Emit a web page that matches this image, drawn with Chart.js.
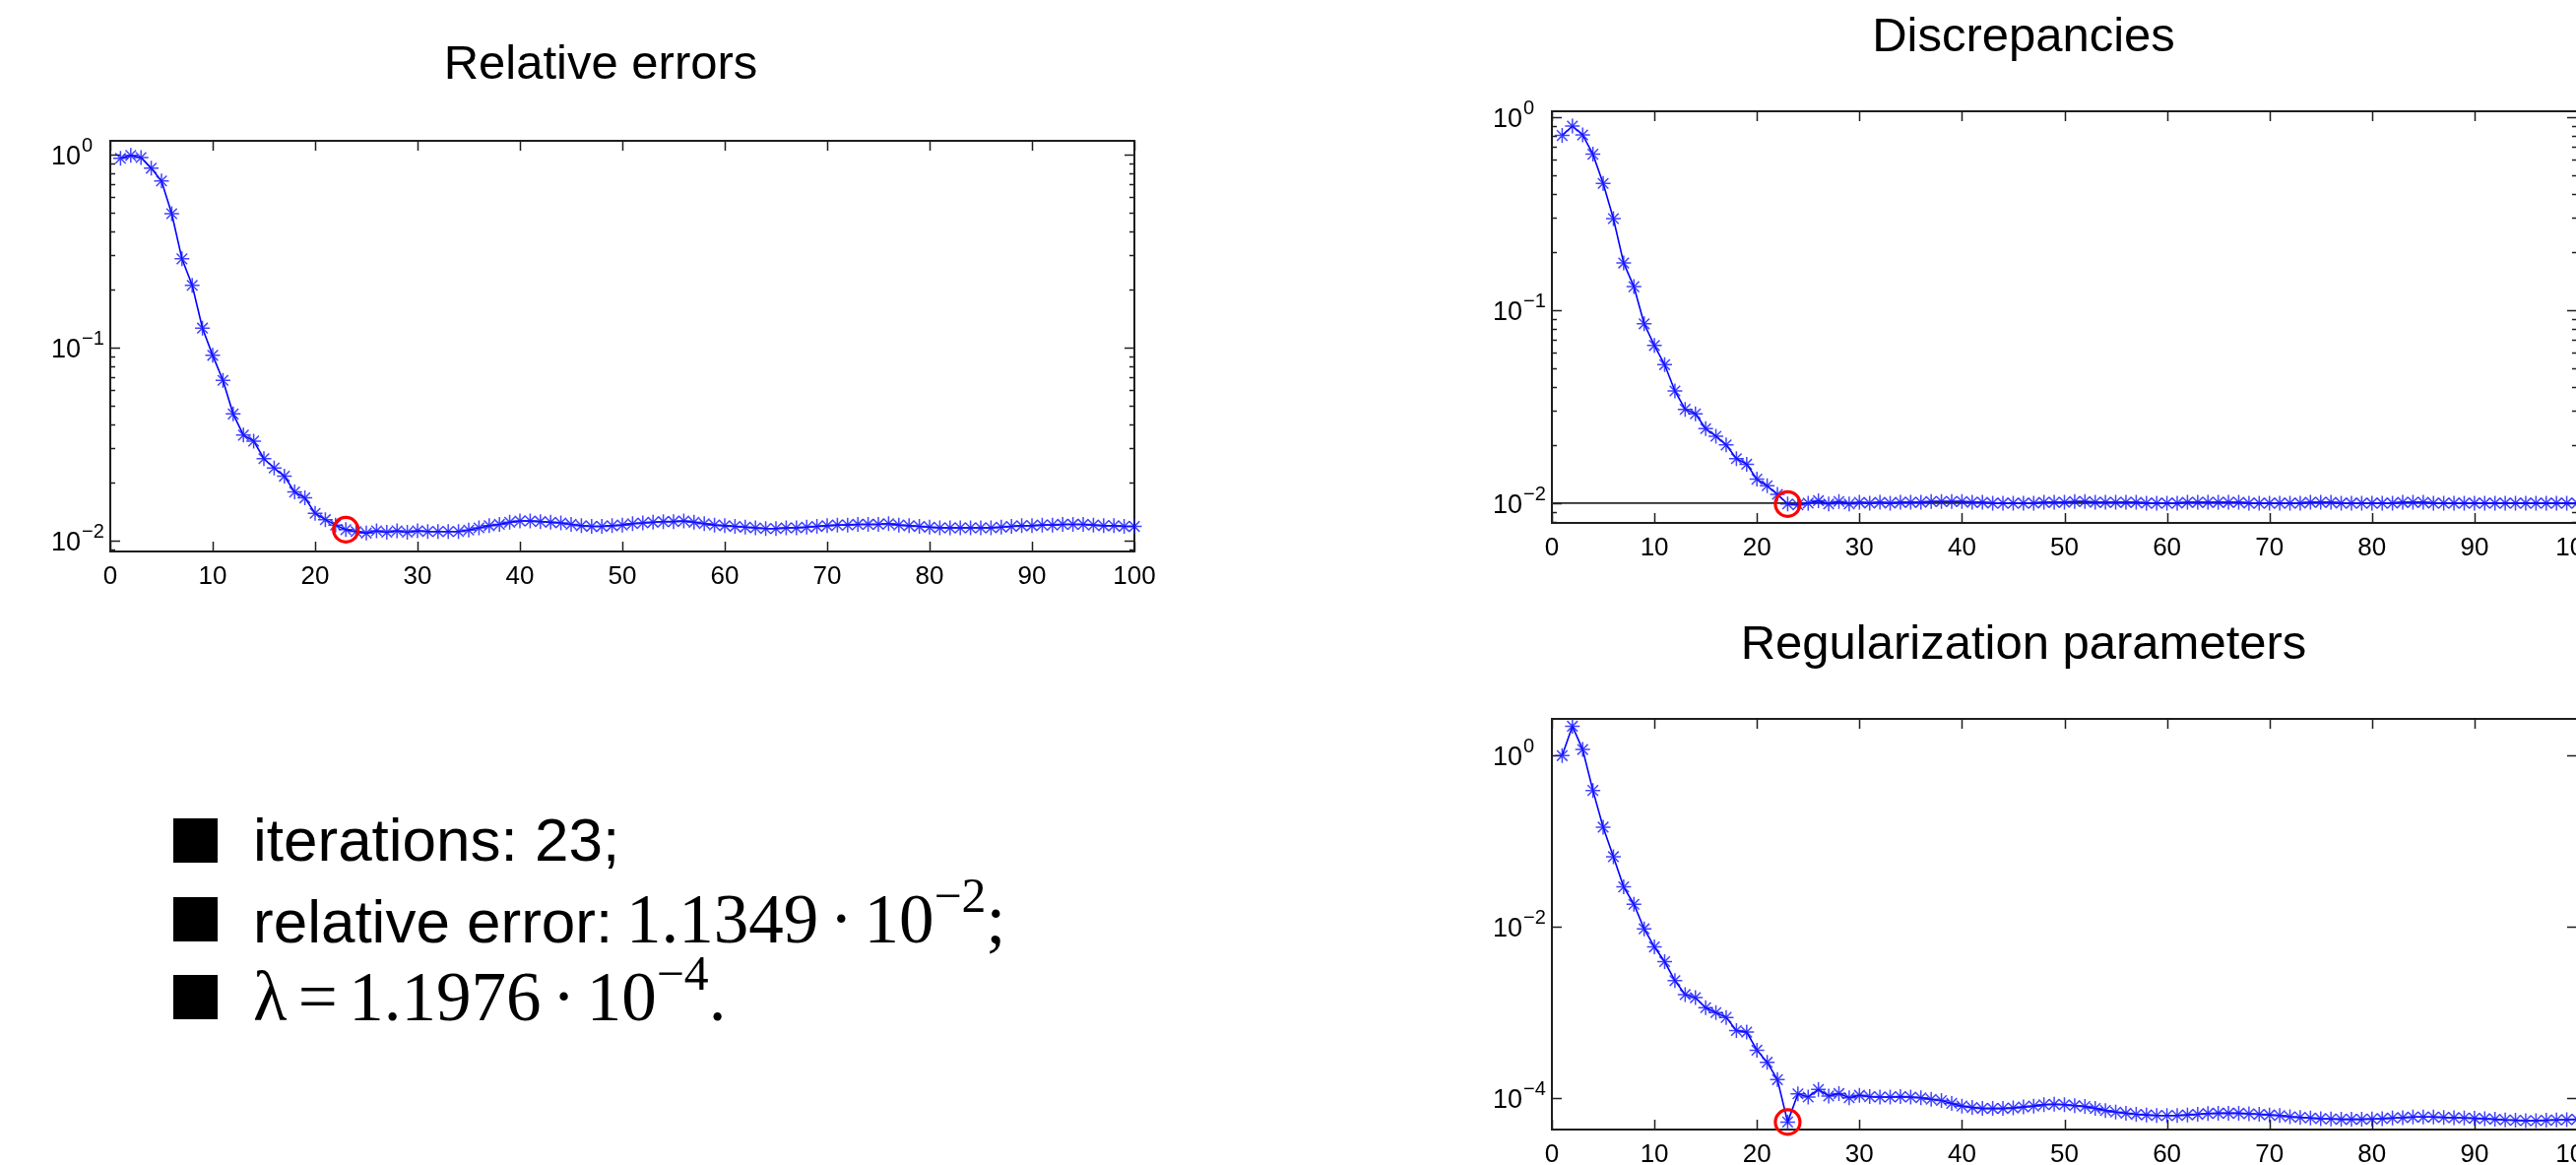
<!DOCTYPE html>
<html>
<head>
<meta charset="utf-8">
<script src="https://cdn.jsdelivr.net/npm/chart.js@4/dist/chart.umd.min.js"></script>
<style>
  html, body { margin: 0; padding: 0; background: #fff; width: 2616px; height: 1183px; overflow: hidden; }
  canvas { position: absolute; }
  .title { position: absolute; font-family: "Liberation Sans", Arial, sans-serif; font-size: 49px; line-height: 49px; white-space: nowrap; transform: translateX(-50%); color: #000; }
  .sq { position: absolute; width: 45px; height: 45px; background: #000; }
  .ln { position: absolute; white-space: nowrap; line-height: 80px; font-size: 62px; font-family: "Liberation Sans", Arial, sans-serif; color: #000; }
  .serif { font-family: "Liberation Serif", "Times New Roman", serif; font-size: 71px; }
  .op { margin: 0 0.16em; }
  sup { font-size: 0.7em; position: relative; top: -0.62em; vertical-align: baseline; line-height: 0; }
</style>
</head>
<body>

<div class="title" style="left:610px;top:39px">Relative errors</div>
<div class="title" style="left:2055px;top:11px">Discrepancies</div>
<div class="title" style="left:2055px;top:628px">Regularization parameters</div>

<canvas id="relChart" width="1200" height="640" style="left:0;top:0"></canvas>
<canvas id="discChart" width="1260" height="600" style="left:1400px;top:0"></canvas>
<canvas id="regChart" width="1260" height="600" style="left:1400px;top:620px"></canvas>

<div class="sq" style="left:176px;top:831px"></div>
<div class="ln" style="left:257px;top:813px">iterations: 23;</div>
<div class="sq" style="left:176px;top:911px"></div>
<div class="ln" style="left:257px;top:893px">relative error:<span class="serif" style="margin-left:-4px"> 1.1349<span class="op">·</span>10<sup>−2</sup>;</span></div>
<div class="sq" style="left:176px;top:990px"></div>
<div class="ln" style="left:257px;top:972px"><span class="serif">λ<span class="op">=</span>1.1976<span class="op">·</span>10<sup>−4</sup>.</span></div>

<script>
// iteration axis
const xTicks = [0, 10, 20, 30, 40, 50, 60, 70, 80, 90, 100];
const stopIteration = 23;

// relative errors, iterations 1..100
const relErrors = [
  0.957, 0.99, 0.965, 0.85, 0.73, 0.494, 0.288, 0.21, 0.126, 0.091,
  0.0675, 0.0452, 0.0351, 0.0327, 0.0265, 0.0237, 0.0215, 0.0178, 0.0166, 0.0138,
  0.0128, 0.0120, 0.01135, 0.0111, 0.0109, 0.0112, 0.0110, 0.0112, 0.0110, 0.0112,
  0.0111, 0.0111, 0.0111, 0.0111, 0.0113, 0.0116, 0.0119, 0.0121, 0.0124, 0.0126,
  0.0126, 0.0125, 0.0124, 0.0123, 0.0121, 0.0119, 0.0118, 0.0118, 0.0119, 0.0120,
  0.0122, 0.0123, 0.0124, 0.0125, 0.0125, 0.0126, 0.0124, 0.0122, 0.0120, 0.0119,
  0.0118, 0.0117, 0.0116, 0.0115, 0.0115, 0.0116, 0.0116, 0.0117, 0.0118, 0.0119,
  0.0120, 0.0120, 0.0121, 0.0121, 0.0121, 0.0122, 0.0120, 0.0119, 0.0118, 0.0117,
  0.0116, 0.0116, 0.0116, 0.0116, 0.0116, 0.0116, 0.0117, 0.0118, 0.0119, 0.0119,
  0.0120, 0.0120, 0.0121, 0.0121, 0.0121, 0.0120, 0.0119, 0.0119, 0.0118, 0.0118
];

// discrepancies, iterations 1..100
const discrepancies = [
  0.80, 0.896, 0.806, 0.64, 0.452, 0.297, 0.175, 0.132, 0.0848, 0.0655,
  0.0521, 0.0381, 0.0306, 0.0290, 0.0243, 0.0222, 0.0200, 0.0170, 0.0159, 0.0133,
  0.0123, 0.0111, 0.0099, 0.0098, 0.0100, 0.0103, 0.0099, 0.0102, 0.0099, 0.0101,
  0.0100, 0.0101, 0.0100, 0.0101, 0.0101, 0.0101, 0.0102, 0.0102, 0.0102, 0.0102,
  0.0101, 0.0101, 0.0100, 0.0100, 0.0100, 0.0100, 0.0100, 0.0101, 0.0101, 0.0101,
  0.0102, 0.0102, 0.0101, 0.0101, 0.0101, 0.0101, 0.0101, 0.0100, 0.0100, 0.0100,
  0.0100, 0.0101, 0.0101, 0.0101, 0.0101, 0.0101, 0.0101, 0.0100, 0.0100, 0.0100,
  0.0100, 0.0100, 0.0100, 0.0101, 0.0101, 0.0101, 0.0100, 0.0100, 0.0100, 0.0100,
  0.0100, 0.0100, 0.0101, 0.0101, 0.0101, 0.0100, 0.0100, 0.0100, 0.0100, 0.0100,
  0.0100, 0.0100, 0.0100, 0.0100, 0.0100, 0.0100, 0.0100, 0.0100, 0.0100, 0.0100
];
const noiseLevel = 0.01;

// regularization parameters, iterations 1..100
const regParams = [
  1.0, 2.21, 1.18, 0.392, 0.146, 0.0659, 0.0292, 0.0183, 0.00944, 0.0058,
  0.0039, 0.00234, 0.00161, 0.00148, 0.00113, 0.00099, 0.00087, 0.00061, 0.000585, 0.00036,
  0.00026, 0.000163, 5.2e-5, 1.11e-4, 1.02e-4, 1.25e-4, 1.05e-4, 1.12e-4, 1.0e-4, 1.07e-4,
  1.03e-4, 1.02e-4, 1.02e-4, 1.03e-4, 1.02e-4, 1.0e-4, 9.6e-5, 9.3e-5, 8.6e-5, 8.0e-5,
  7.7e-5, 7.5e-5, 7.5e-5, 7.5e-5, 7.6e-5, 7.8e-5, 8.0e-5, 8.3e-5, 8.4e-5, 8.3e-5,
  8.1e-5, 7.9e-5, 7.5e-5, 7.1e-5, 6.8e-5, 6.6e-5, 6.4e-5, 6.3e-5, 6.2e-5, 6.2e-5,
  6.2e-5, 6.3e-5, 6.4e-5, 6.55e-5, 6.6e-5, 6.6e-5, 6.6e-5, 6.5e-5, 6.4e-5, 6.3e-5,
  6.2e-5, 6.0e-5, 5.9e-5, 5.8e-5, 5.7e-5, 5.65e-5, 5.6e-5, 5.6e-5, 5.6e-5, 5.65e-5,
  5.7e-5, 5.8e-5, 5.85e-5, 5.95e-5, 5.95e-5, 5.95e-5, 5.9e-5, 5.85e-5, 5.8e-5, 5.75e-5,
  5.7e-5, 5.6e-5, 5.5e-5, 5.45e-5, 5.4e-5, 5.4e-5, 5.45e-5, 5.5e-5, 5.55e-5, 5.6e-5
];

// y tick labels (decades)
const relYTicks = [1e-2, 1e-1, 1];
const discYTicks = [1e-2, 1e-1, 1];
const regYTicks = [1e-4, 1e-2, 1];

const BLUE = '#0000ff';
const FONT = '"Liberation Sans", Arial, sans-serif';

// matlab-like box: inward ticks on all four sides, 10^k labels
const matlabAxes = {
  id: 'matlabAxes',
  beforeDatasetsDraw(chart, args, opts) {
    const { ctx, chartArea: a, scales: { x, y } } = chart;
    ctx.save();
    ctx.strokeStyle = '#1e1e1e';
    ctx.lineWidth = 2;
    ctx.strokeRect(a.left, a.top, a.right - a.left, a.bottom - a.top);
    ctx.lineWidth = 1.5;
    ctx.beginPath();
    xTicks.forEach(v => {
      const px = Math.round(x.getPixelForValue(v)) + 0.5;
      ctx.moveTo(px, a.bottom); ctx.lineTo(px, a.bottom - 10);
      ctx.moveTo(px, a.top); ctx.lineTo(px, a.top + 10);
    });
    opts.major.forEach(v => {
      const py = Math.round(y.getPixelForValue(v)) + 0.5;
      ctx.moveTo(a.left, py); ctx.lineTo(a.left + 10, py);
      ctx.moveTo(a.right, py); ctx.lineTo(a.right - 10, py);
    });
    if (opts.minor) {
      for (let d = -6; d <= 1; d++) {
        for (let m = 2; m <= 9; m++) {
          const v = m * Math.pow(10, d);
          if (v < y.min || v > y.max) continue;
          const py = Math.round(y.getPixelForValue(v)) + 0.5;
          ctx.moveTo(a.left, py); ctx.lineTo(a.left + 5, py);
          ctx.moveTo(a.right, py); ctx.lineTo(a.right - 5, py);
        }
      }
    }
    ctx.stroke();

    ctx.fillStyle = '#000';
    ctx.textAlign = 'left';
    ctx.textBaseline = 'alphabetic';
    opts.major.forEach(v => {
      const e = Math.round(Math.log10(v));
      const py = y.getPixelForValue(v);
      const lx = a.left - 60;
      ctx.font = '27px ' + FONT;
      ctx.fillText('10', lx, py + 10);
      const w = ctx.measureText('10').width;
      ctx.font = '20px ' + FONT;
      ctx.fillText(e < 0 ? '\u2212' + (-e) : String(e), lx + w + 1, py - 3);
    });
    ctx.restore();
  }
};

function makeChart(id, values, yMin, yMax, yTicks, minor, box, noise) {
  const pts = values.map((v, i) => ({ x: i + 1, y: v }));
  const datasets = [
    {
      data: [pts[stopIteration - 1]],
      showLine: false,
      pointStyle: 'circle',
      pointRadius: 12.5,
      pointBorderWidth: 3.2,
      pointBorderColor: '#ff0000',
      pointBackgroundColor: 'rgba(0,0,0,0)',
      order: 0,
      clip: false
    },
    {
      data: pts,
      borderColor: BLUE,
      borderWidth: 1.6,
      pointStyle: 'star',
      pointRadius: 7.5,
      pointBorderWidth: 1.5,
      pointBorderColor: 'rgba(20,20,255,0.8)',
      pointBackgroundColor: BLUE,
      tension: 0,
      order: 1,
      clip: false
    }
  ];
  if (noise) {
    datasets.push({
      data: [{ x: 0, y: noise }, { x: 100, y: noise }],
      borderColor: '#2a2a2a',
      borderWidth: 1.8,
      pointRadius: 0,
      order: 2
    });
  }
  const canvas = document.getElementById(id);
  return new Chart(canvas.getContext('2d'), {
    type: 'line',
    data: { datasets },
    options: {
      responsive: false,
      animation: false,
      events: [],
      layout: { padding: { left: 0, top: box.top, right: box.right, bottom: 0 } },
      plugins: {
        legend: { display: false },
        tooltip: { enabled: false },
        title: { display: false },
        matlabAxes: { major: yTicks, minor }
      },
      scales: {
        x: {
          type: 'linear',
          min: 0,
          max: 100,
          grid: { display: false, drawTicks: false },
          border: { display: false },
          ticks: { stepSize: 10, color: '#000', font: { family: FONT, size: 26 }, padding: 10, maxRotation: 0 },
          afterFit: s => { s.height = box.xh; }
        },
        y: {
          type: 'logarithmic',
          min: yMin,
          max: yMax,
          grid: { display: false, drawTicks: false },
          border: { display: false },
          ticks: { display: false },
          afterFit: s => { s.width = box.yw; }
        }
      }
    },
    plugins: [matlabAxes]
  });
}

makeChart('relChart', relErrors, 0.00875, 1.179, relYTicks, true,
  { top: 143, right: 48, xh: 80, yw: 112 });
makeChart('discChart', discrepancies, 0.0079, 1.068, discYTicks, true,
  { top: 113, right: 43, xh: 69, yw: 176 }, noiseLevel);
makeChart('regChart', regParams, 4.25e-5, 2.69, regYTicks, false,
  { top: 110, right: 43, xh: 73, yw: 176 });
</script>
</body>
</html>
